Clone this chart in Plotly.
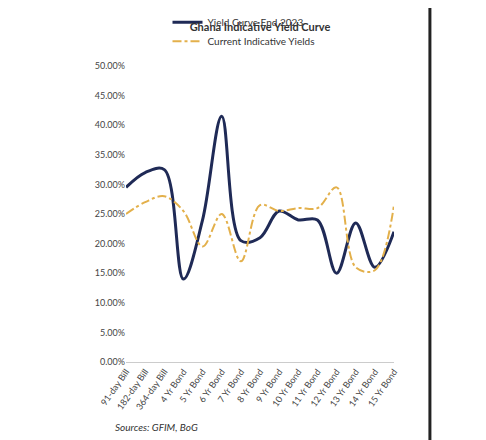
import plotly.graph_objects as go

categories = ["91-day Bill","182-day Bill","364-day Bill","4 Yr Bond","5 Yr Bond","6 Yr Bond","7 Yr Bond",
              "8 Yr Bond","9 Yr Bond","10 Yr Bond","11 Yr Bond","12 Yr Bond","13 Yr Bond","14 Yr Bond","15 Yr Bond"]
end_2023 = [29.5, 32.0, 32.5, 14.0, 24.0, 41.5, 20.5, 21.0, 25.5, 24.0, 24.0, 15.0, 23.5, 16.0, 22.0]
current = [25.0, 27.0, 28.0, 25.5, 19.5, 25.0, 17.0, 26.5, 25.5, 26.0, 26.0, 29.5, 16.0, 15.5, 26.5]
y_ticks = [0, 5, 10, 15, 20, 25, 30, 35, 40, 45, 50]

fig = go.Figure()
fig.add_trace(go.Scatter(x=categories, y=end_2023, mode="lines", name="Yield Curve End 2023",
                         line=dict(color="#1f2a56", width=3, shape="spline")))
fig.add_trace(go.Scatter(x=categories, y=current, mode="lines", name="Current Indicative Yields",
                         line=dict(color="#e3b04b", width=2, dash="dashdot", shape="spline")))
fig.update_layout(
    width=486, height=440, paper_bgcolor="white", plot_bgcolor="white",
    margin=dict(l=118, r=100, t=58, b=86, autoexpand=False),
    font=dict(family="Lato, Open Sans, sans-serif", size=10, color="#444"),
    title=dict(text="<b>Ghana Indicative Yield Curve</b>", x=0.5, xref="paper", y=0.965,
               font=dict(size=11, color="#333")),
    legend=dict(orientation="h", x=0.5, xanchor="center", y=1.035, yanchor="bottom",
                entrywidth=140, font=dict(size=10, color="#333")),
    showlegend=True,
)
fig.update_xaxes(tickangle=-55, showgrid=False, showline=True, linecolor="#ccc",
                 tickfont=dict(size=9), automargin=False)
fig.update_yaxes(range=[0, 50], tickvals=y_ticks, ticktext=[f"{v:.2f}%" for v in y_ticks],
                 showgrid=False, zeroline=False, tickfont=dict(size=9), automargin=False)
fig.add_annotation(text="<i>Sources: GFIM, BoG</i>", xref="paper", yref="paper", x=-0.05, y=-0.22,
                   xanchor="left", yanchor="middle", showarrow=False, font=dict(size=10, color="#333"))
fig.add_shape(type="line", xref="paper", yref="paper", x0=1.134, x1=1.134, y0=-0.3, y1=1.2,
              line=dict(color="#222", width=3))
fig.write_html("out.html")
